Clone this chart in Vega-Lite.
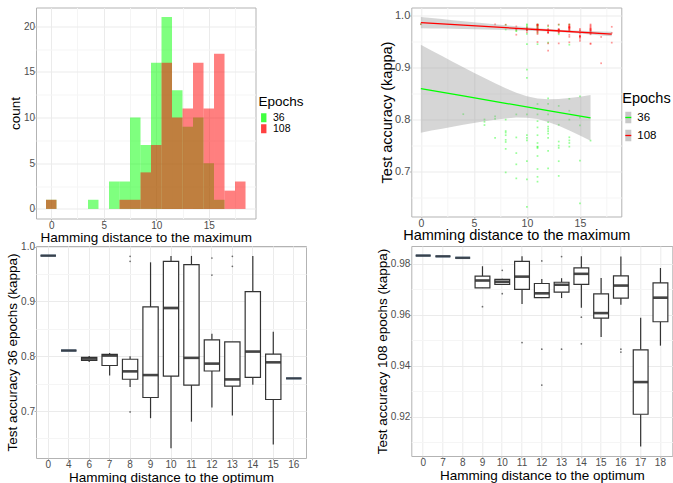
{
  "$schema": "https://vega.github.io/schema/vega-lite/v6.json",
  "padding": {"left": 5, "top": 6.5, "right": 0, "bottom": 0},
  "config": {
    "font": "Liberation Sans",
    "mark": {"color": "#333333"},
    "view": {"stroke": "#B3B3B3", "strokeWidth": 1},
    "axis": {"domain": false, "grid": true, "gridColor": "#EBEBEB", "labelColor": "#4D4D4D", "labelFontSize": 10, "titleFontSize": 13.5, "titleFontWeight": "normal", "titleColor": "#000000", "tickColor": "#B3B3B3", "tickSize": 2, "labelPadding": -0.5, "labelOverlap": false, "labelFlush": false},
    "legend": {"titleFontWeight": "normal", "titleColor": "#000000", "labelColor": "#000000", "padding": 0}
  },
  "datasets": {
    "pts": [
      {"epochs":36,"dist":0,"kappa":0.9835},
      {"epochs":36,"dist":4,"kappa":0.8104},
      {"epochs":36,"dist":6,"kappa":0.7895},{"epochs":36,"dist":6,"kappa":0.7958},{"epochs":36,"dist":6,"kappa":0.8003},
      {"epochs":36,"dist":7,"kappa":0.765},{"epochs":36,"dist":7,"kappa":0.8012},{"epochs":36,"dist":7,"kappa":0.806},
      {"epochs":36,"dist":8,"kappa":0.6985},{"epochs":36,"dist":8,"kappa":0.7437},{"epochs":36,"dist":8,"kappa":0.757},{"epochs":36,"dist":8,"kappa":0.761},{"epochs":36,"dist":8,"kappa":0.770},{"epochs":36,"dist":8,"kappa":0.775},{"epochs":36,"dist":8,"kappa":0.778},{"epochs":36,"dist":8,"kappa":0.800},{"epochs":36,"dist":8,"kappa":0.9731},{"epochs":36,"dist":8,"kappa":0.9823},
      {"epochs":36,"dist":9,"kappa":0.687},{"epochs":36,"dist":9,"kappa":0.714},{"epochs":36,"dist":9,"kappa":0.7356},{"epochs":36,"dist":9,"kappa":0.7657},{"epochs":36,"dist":9,"kappa":0.81},{"epochs":36,"dist":9,"kappa":0.97},{"epochs":36,"dist":9,"kappa":0.9713},
      {"epochs":36,"dist":10,"kappa":0.632},{"epochs":36,"dist":10,"kappa":0.685},{"epochs":36,"dist":10,"kappa":0.72},{"epochs":36,"dist":10,"kappa":0.76},{"epochs":36,"dist":10,"kappa":0.765},{"epochs":36,"dist":10,"kappa":0.77},{"epochs":36,"dist":10,"kappa":0.81},{"epochs":36,"dist":10,"kappa":0.88},{"epochs":36,"dist":10,"kappa":0.896},{"epochs":36,"dist":10,"kappa":0.945},{"epochs":36,"dist":10,"kappa":0.965},{"epochs":36,"dist":10,"kappa":0.972},{"epochs":36,"dist":10,"kappa":0.976},{"epochs":36,"dist":10,"kappa":0.978},{"epochs":36,"dist":10,"kappa":0.981},{"epochs":36,"dist":10,"kappa":0.983},
      {"epochs":36,"dist":11,"kappa":0.6807},{"epochs":36,"dist":11,"kappa":0.69},{"epochs":36,"dist":11,"kappa":0.705},{"epochs":36,"dist":11,"kappa":0.73},{"epochs":36,"dist":11,"kappa":0.745},{"epochs":36,"dist":11,"kappa":0.7474},{"epochs":36,"dist":11,"kappa":0.748},{"epochs":36,"dist":11,"kappa":0.755},{"epochs":36,"dist":11,"kappa":0.77},{"epochs":36,"dist":11,"kappa":0.785},{"epochs":36,"dist":11,"kappa":0.797},{"epochs":36,"dist":11,"kappa":0.81},{"epochs":36,"dist":11,"kappa":0.82},{"epochs":36,"dist":11,"kappa":0.83},{"epochs":36,"dist":11,"kappa":0.945},{"epochs":36,"dist":11,"kappa":0.967},{"epochs":36,"dist":11,"kappa":0.972},{"epochs":36,"dist":11,"kappa":0.975},{"epochs":36,"dist":11,"kappa":0.978},{"epochs":36,"dist":11,"kappa":0.98},{"epochs":36,"dist":11,"kappa":0.983},
      {"epochs":36,"dist":12,"kappa":0.7064},{"epochs":36,"dist":12,"kappa":0.74},{"epochs":36,"dist":12,"kappa":0.765},{"epochs":36,"dist":12,"kappa":0.7731},{"epochs":36,"dist":12,"kappa":0.778},{"epochs":36,"dist":12,"kappa":0.782},{"epochs":36,"dist":12,"kappa":0.7865},{"epochs":36,"dist":12,"kappa":0.795},{"epochs":36,"dist":12,"kappa":0.81},{"epochs":36,"dist":12,"kappa":0.83},{"epochs":36,"dist":12,"kappa":0.841},{"epochs":36,"dist":12,"kappa":0.948},{"epochs":36,"dist":12,"kappa":0.9792},
      {"epochs":36,"dist":13,"kappa":0.6917},{"epochs":36,"dist":13,"kappa":0.72},{"epochs":36,"dist":13,"kappa":0.7456},{"epochs":36,"dist":13,"kappa":0.75},{"epochs":36,"dist":13,"kappa":0.7578},{"epochs":36,"dist":13,"kappa":0.79},{"epochs":36,"dist":13,"kappa":0.8263},{"epochs":36,"dist":13,"kappa":0.964},{"epochs":36,"dist":13,"kappa":0.9823},
      {"epochs":36,"dist":14,"kappa":0.748},{"epochs":36,"dist":14,"kappa":0.755},{"epochs":36,"dist":14,"kappa":0.760},{"epochs":36,"dist":14,"kappa":0.766},{"epochs":36,"dist":14,"kappa":0.80},{"epochs":36,"dist":14,"kappa":0.817},{"epochs":36,"dist":14,"kappa":0.84},{"epochs":36,"dist":14,"kappa":0.944},{"epochs":36,"dist":14,"kappa":0.97},{"epochs":36,"dist":14,"kappa":0.983},
      {"epochs":36,"dist":15,"kappa":0.6391},{"epochs":36,"dist":15,"kappa":0.7211},{"epochs":36,"dist":15,"kappa":0.789},{"epochs":36,"dist":15,"kappa":0.8037},{"epochs":36,"dist":15,"kappa":0.8447},
      {"epochs":36,"dist":16,"kappa":0.7596},
      {"epochs":108,"dist":0,"kappa":0.9833},
      {"epochs":108,"dist":7,"kappa":0.983},
      {"epochs":108,"dist":8,"kappa":0.9824},
      {"epochs":108,"dist":9,"kappa":0.9632},{"epochs":108,"dist":9,"kappa":0.9731},{"epochs":108,"dist":9,"kappa":0.9739},{"epochs":108,"dist":9,"kappa":0.9791},
      {"epochs":108,"dist":10,"kappa":0.9683},{"epochs":108,"dist":10,"kappa":0.9718},{"epochs":108,"dist":10,"kappa":0.9722},{"epochs":108,"dist":10,"kappa":0.973},{"epochs":108,"dist":10,"kappa":0.9736},{"epochs":108,"dist":10,"kappa":0.9742},{"epochs":108,"dist":10,"kappa":0.9775},
      {"epochs":108,"dist":11,"kappa":0.9491},{"epochs":108,"dist":11,"kappa":0.9643},{"epochs":108,"dist":11,"kappa":0.967},{"epochs":108,"dist":11,"kappa":0.9695},{"epochs":108,"dist":11,"kappa":0.9702},{"epochs":108,"dist":11,"kappa":0.972},{"epochs":108,"dist":11,"kappa":0.974},{"epochs":108,"dist":11,"kappa":0.9748},{"epochs":108,"dist":11,"kappa":0.9752},{"epochs":108,"dist":11,"kappa":0.977},{"epochs":108,"dist":11,"kappa":0.979},{"epochs":108,"dist":11,"kappa":0.9808},{"epochs":108,"dist":11,"kappa":0.9816},{"epochs":108,"dist":11,"kappa":0.982},{"epochs":108,"dist":11,"kappa":0.9825},{"epochs":108,"dist":11,"kappa":0.983},
      {"epochs":108,"dist":12,"kappa":0.9324},{"epochs":108,"dist":12,"kappa":0.9465},{"epochs":108,"dist":12,"kappa":0.9667},{"epochs":108,"dist":12,"kappa":0.9671},{"epochs":108,"dist":12,"kappa":0.968},{"epochs":108,"dist":12,"kappa":0.969},{"epochs":108,"dist":12,"kappa":0.9709},{"epochs":108,"dist":12,"kappa":0.9728},{"epochs":108,"dist":12,"kappa":0.9741},{"epochs":108,"dist":12,"kappa":0.9812},
      {"epochs":108,"dist":13,"kappa":0.9465},{"epochs":108,"dist":13,"kappa":0.9666},{"epochs":108,"dist":13,"kappa":0.9685},{"epochs":108,"dist":13,"kappa":0.9693},{"epochs":108,"dist":13,"kappa":0.970},{"epochs":108,"dist":13,"kappa":0.9718},{"epochs":108,"dist":13,"kappa":0.9722},{"epochs":108,"dist":13,"kappa":0.9725},{"epochs":108,"dist":13,"kappa":0.9731},{"epochs":108,"dist":13,"kappa":0.9744},{"epochs":108,"dist":13,"kappa":0.9829},
      {"epochs":108,"dist":14,"kappa":0.9486},{"epochs":108,"dist":14,"kappa":0.9591},{"epochs":108,"dist":14,"kappa":0.9628},{"epochs":108,"dist":14,"kappa":0.9715},{"epochs":108,"dist":14,"kappa":0.9721},{"epochs":108,"dist":14,"kappa":0.9735},{"epochs":108,"dist":14,"kappa":0.975},{"epochs":108,"dist":14,"kappa":0.9758},{"epochs":108,"dist":14,"kappa":0.9764},{"epochs":108,"dist":14,"kappa":0.977},{"epochs":108,"dist":14,"kappa":0.9778},{"epochs":108,"dist":14,"kappa":0.9783},{"epochs":108,"dist":14,"kappa":0.9788},{"epochs":108,"dist":14,"kappa":0.980},{"epochs":108,"dist":14,"kappa":0.982},{"epochs":108,"dist":14,"kappa":0.983},
      {"epochs":108,"dist":15,"kappa":0.9513},{"epochs":108,"dist":15,"kappa":0.955},{"epochs":108,"dist":15,"kappa":0.9585},{"epochs":108,"dist":15,"kappa":0.959},{"epochs":108,"dist":15,"kappa":0.96},{"epochs":108,"dist":15,"kappa":0.9607},{"epochs":108,"dist":15,"kappa":0.962},{"epochs":108,"dist":15,"kappa":0.966},{"epochs":108,"dist":15,"kappa":0.9705},{"epochs":108,"dist":15,"kappa":0.972},{"epochs":108,"dist":15,"kappa":0.9745},
      {"epochs":108,"dist":16,"kappa":0.9454},{"epochs":108,"dist":16,"kappa":0.9465},{"epochs":108,"dist":16,"kappa":0.964},{"epochs":108,"dist":16,"kappa":0.9655},{"epochs":108,"dist":16,"kappa":0.9666},{"epochs":108,"dist":16,"kappa":0.968},{"epochs":108,"dist":16,"kappa":0.9695},{"epochs":108,"dist":16,"kappa":0.9705},{"epochs":108,"dist":16,"kappa":0.9715},{"epochs":108,"dist":16,"kappa":0.9725},{"epochs":108,"dist":16,"kappa":0.9735},{"epochs":108,"dist":16,"kappa":0.9745},{"epochs":108,"dist":16,"kappa":0.9753},{"epochs":108,"dist":16,"kappa":0.977},{"epochs":108,"dist":16,"kappa":0.979},{"epochs":108,"dist":16,"kappa":0.981},{"epochs":108,"dist":16,"kappa":0.9829},
      {"epochs":108,"dist":17,"kappa":0.9083},{"epochs":108,"dist":17,"kappa":0.9589},
      {"epochs":108,"dist":18,"kappa":0.9479},{"epochs":108,"dist":18,"kappa":0.9667},{"epochs":108,"dist":18,"kappa":0.9784}
    ],
    "band": [
      {"epochs":36,"dist":0,"kappa":0.7749,"hi":0.9439},
      {"epochs":36,"dist":1,"kappa":0.7788,"hi":0.9330},
      {"epochs":36,"dist":2,"kappa":0.7826,"hi":0.9222},
      {"epochs":36,"dist":3,"kappa":0.7863,"hi":0.9114},
      {"epochs":36,"dist":4,"kappa":0.7900,"hi":0.9007},
      {"epochs":36,"dist":5,"kappa":0.7935,"hi":0.8902},
      {"epochs":36,"dist":6,"kappa":0.7968,"hi":0.8798},
      {"epochs":36,"dist":7,"kappa":0.7998,"hi":0.8698},
      {"epochs":36,"dist":8,"kappa":0.8023,"hi":0.8603},
      {"epochs":36,"dist":9,"kappa":0.8038,"hi":0.8518},
      {"epochs":36,"dist":10,"kappa":0.8037,"hi":0.8449},
      {"epochs":36,"dist":11,"kappa":0.8011,"hi":0.8405},
      {"epochs":36,"dist":12,"kappa":0.7956,"hi":0.8389},
      {"epochs":36,"dist":13,"kappa":0.7880,"hi":0.8395},
      {"epochs":36,"dist":14,"kappa":0.7790,"hi":0.8414},
      {"epochs":36,"dist":15,"kappa":0.7693,"hi":0.8441},
      {"epochs":36,"dist":16,"kappa":0.7591,"hi":0.8473},
      {"epochs":108,"dist":0,"kappa":0.9758,"hi":0.9972},
      {"epochs":108,"dist":1,"kappa":0.9753,"hi":0.9952},
      {"epochs":108,"dist":2,"kappa":0.9749,"hi":0.9932},
      {"epochs":108,"dist":3,"kappa":0.9745,"hi":0.9912},
      {"epochs":108,"dist":4,"kappa":0.9740,"hi":0.9892},
      {"epochs":108,"dist":5,"kappa":0.9736,"hi":0.9872},
      {"epochs":108,"dist":6,"kappa":0.9731,"hi":0.9853},
      {"epochs":108,"dist":7,"kappa":0.9726,"hi":0.9833},
      {"epochs":108,"dist":8,"kappa":0.9721,"hi":0.9813},
      {"epochs":108,"dist":9,"kappa":0.9716,"hi":0.9794},
      {"epochs":108,"dist":10,"kappa":0.9710,"hi":0.9776},
      {"epochs":108,"dist":11,"kappa":0.9703,"hi":0.9758},
      {"epochs":108,"dist":12,"kappa":0.9695,"hi":0.9742},
      {"epochs":108,"dist":13,"kappa":0.9684,"hi":0.9728},
      {"epochs":108,"dist":14,"kappa":0.9671,"hi":0.9717},
      {"epochs":108,"dist":15,"kappa":0.9655,"hi":0.9708},
      {"epochs":108,"dist":16,"kappa":0.9638,"hi":0.9701},
      {"epochs":108,"dist":17,"kappa":0.9619,"hi":0.9696},
      {"epochs":108,"dist":18,"kappa":0.9600,"hi":0.9690}
    ],
    "fit": [
      {"epochs":36,"dist":0,"kappa":0.8594},
      {"epochs":36,"dist":4,"kappa":0.8454},
      {"epochs":36,"dist":8,"kappa":0.8313},
      {"epochs":36,"dist":12,"kappa":0.8172},
      {"epochs":36,"dist":16,"kappa":0.8032},
      {"epochs":108,"dist":0,"kappa":0.9865},
      {"epochs":108,"dist":6,"kappa":0.9792},
      {"epochs":108,"dist":12,"kappa":0.9718},
      {"epochs":108,"dist":18,"kappa":0.9645}
    ]
  },
  "columns": 2,
  "align": "each",
  "bounds": "flush",
  "spacing": {"row": 27.5, "column": 105.3},
  "resolve": {"scale": {"x": "independent", "y": "independent", "color": "independent", "fill": "independent"}, "legend": {"color": "independent", "fill": "independent"}},
  "concat": [
    {
      "width": 219.5, "height": 211,
      "data": {"name": "pts"},
      "transform": [
        {"bin": {"extent": [-0.5, 18.5], "step": 1, "nice": false}, "field": "dist", "as": ["b0", "b1"]},
        {"aggregate": [{"op": "count", "as": "count"}], "groupby": ["epochs", "b0", "b1"]}
      ],
      "mark": {"type": "rect", "opacity": 0.5},
      "encoding": {
        "x": {"field": "b0", "type": "quantitative", "scale": {"domain": [-1.45, 19.45], "nice": false, "zero": false},
          "axis": {"values": [0, 2.5, 5, 7.5, 10, 12.5, 15, 17.5], "labelExpr": "datum.value % 5 === 0 ? datum.label : ''",
            "gridColor": {"condition": {"test": "datum.value % 5 === 0", "value": "#EBEBEB"}, "value": "#F5F5F5"},
            "tickOpacity": {"condition": {"test": "datum.value % 5 === 0", "value": 1}, "value": 0},
            "title": "Hamming distance to the maximum", "titlePadding": 0}},
        "x2": {"field": "b1"},
        "y": {"field": "count", "type": "quantitative", "scale": {"domain": [-1.05, 22.05], "nice": false, "zero": false},
          "axis": {"values": [0, 2.5, 5, 7.5, 10, 12.5, 15, 17.5, 20], "labelExpr": "datum.value % 5 === 0 ? datum.label : ''",
            "gridColor": {"condition": {"test": "datum.value % 5 === 0", "value": "#EBEBEB"}, "value": "#F5F5F5"},
            "tickOpacity": {"condition": {"test": "datum.value % 5 === 0", "value": 1}, "value": 0},
            "title": "count", "titlePadding": 0.5}},
        "y2": {"datum": 0},
        "color": {"field": "epochs", "type": "nominal", "scale": {"domain": [36, 108], "range": ["#00FF00", "#FF0000"]},
          "legend": {"title": "Epochs", "orient": "none", "legendX": 222.5, "legendY": 87, "symbolType": "M-0.6,-1H0.6V1H-0.6Z", "symbolSize": 81, "symbolOpacity": 0.75, "symbolStrokeWidth": 0, "titleFontSize": 13.5, "labelFontSize": 10.5, "rowPadding": 0, "titlePadding": 4.5, "labelOffset": 4}},
        "order": {"field": "epochs", "type": "quantitative"}
      }
    },
    {
      "width": 210, "height": 209,
      "encoding": {
        "x": {"field": "dist", "type": "quantitative", "scale": {"domain": [-0.9, 18.9], "nice": false, "zero": false},
          "axis": {"values": [0, 2.5, 5, 7.5, 10, 12.5, 15, 17.5], "labelExpr": "datum.value % 5 === 0 ? datum.label : ''",
            "gridColor": {"condition": {"test": "datum.value % 5 === 0", "value": "#EBEBEB"}, "value": "#F5F5F5"},
            "tickOpacity": {"condition": {"test": "datum.value % 5 === 0", "value": 1}, "value": 0},
            "labelFontSize": 10.5, "titleFontSize": 14.5, "title": "Hamming distance to the maximum", "titlePadding": 0}},
        "y": {"field": "kappa", "type": "quantitative", "scale": {"domain": [0.6137, 1.0155], "nice": false, "zero": false},
          "axis": {"values": [0.65, 0.7, 0.75, 0.8, 0.85, 0.9, 0.95, 1.0], "labelExpr": "abs(datum.value*10 - round(datum.value*10)) < 0.001 ? format(datum.value, '.1f') : ''",
            "gridColor": {"condition": {"test": "abs(datum.value*10 - round(datum.value*10)) < 0.001", "value": "#EBEBEB"}, "value": "#F5F5F5"},
            "tickOpacity": {"condition": {"test": "abs(datum.value*10 - round(datum.value*10)) < 0.001", "value": 1}, "value": 0},
            "labelFontSize": 11, "titleFontSize": 14.5, "title": "Test accuracy (kappa)", "titlePadding": 0}}
      },
      "layer": [
        {
          "data": {"name": "pts"},
          "mark": {"type": "square", "size": 3, "opacity": 0.4},
          "encoding": {
            "fill": {"field": "epochs", "type": "nominal", "scale": {"domain": [108, 36], "range": ["#FF0000", "#00FF00"]}, "legend": null}
          }
        },
        {
          "data": {"name": "band"},
          "mark": {"type": "area", "color": "#999999", "opacity": 0.4},
          "encoding": {
            "y2": {"field": "hi"},
            "detail": {"field": "epochs"}
          }
        },
        {
          "data": {"name": "fit"},
          "mark": {"type": "line", "strokeWidth": 1.3},
          "encoding": {
            "color": {"field": "epochs", "type": "nominal", "scale": {"domain": [36, 108], "range": ["#00FF00", "#FF0000"]},
              "legend": {"title": "Epochs", "orient": "none", "legendX": 211, "legendY": 84.5, "symbolType": "M-0.6,0H0.6V1.15H-0.6V-1.15H0.6V0", "symbolSize": 100, "symbolDash": [6, 100], "symbolStrokeWidth": 1.3, "symbolFillColor": "#C8C8C8", "symbolOpacity": 1, "titleFontSize": 14.5, "labelFontSize": 11.5, "rowPadding": 0, "titlePadding": 5, "labelOffset": 3,
                "encode": {"symbols": {"update": {"fill": {"value": "#C8C8C8"}, "fillOpacity": {"value": 1}}}}}}
          }
        }
      ]
    },
    {
      "width": 270, "height": 212,
      "data": {"name": "pts"},
      "transform": [{"filter": "datum.epochs === 36"}],
      "encoding": {
        "x": {"field": "dist", "type": "ordinal", "scale": {"paddingInner": 0.25, "paddingOuter": 0.225},
          "axis": {"title": "Hamming distance to the optimum", "labelAngle": 0, "bandPosition": 0.5, "labelPadding": -1, "titlePadding": 1}},
        "y": {"field": "kappa", "type": "quantitative", "scale": {"domain": [0.6144, 1.0011], "nice": false, "zero": false},
          "axis": {"values": [0.65, 0.7, 0.75, 0.8, 0.85, 0.9, 0.95, 1.0], "labelExpr": "abs(datum.value*10 - round(datum.value*10)) < 0.001 ? format(datum.value, '.1f') : ''",
            "gridColor": {"condition": {"test": "abs(datum.value*10 - round(datum.value*10)) < 0.001", "value": "#EBEBEB"}, "value": "#F5F5F5"},
            "tickOpacity": {"condition": {"test": "abs(datum.value*10 - round(datum.value*10)) < 0.001", "value": 1}, "value": 0},
            "title": "Test accuracy 36 epochs (kappa)", "titlePadding": 1}}
      },
      "layer": [
        {
          "mark": {"type": "boxplot", "extent": 1.5, "size": 15.3, "color": "#333333",
            "box": {"fill": "white", "stroke": "#333333", "strokeWidth": 1.2},
            "median": {"color": "#333333", "thickness": 2.4},
            "rule": {"color": "#333333", "strokeWidth": 1.2},
            "outliers": {"color": "#333333", "size": 3, "filled": true, "strokeWidth": 0}}
        },
        {
          "transform": [{"aggregate": [{"op": "median", "field": "kappa", "as": "kappa"}], "groupby": ["dist"]}],
          "mark": {"type": "tick", "color": "#333333", "thickness": 2.4, "size": 15.3}
        }
      ]
    },
    {
      "width": 261, "height": 210,
      "data": {"name": "pts"},
      "transform": [{"filter": "datum.epochs === 108"}],
      "encoding": {
        "x": {"field": "dist", "type": "ordinal", "scale": {"paddingInner": 0.25, "paddingOuter": 0.225},
          "axis": {"title": "Hamming distance to the optimum", "labelAngle": 0, "bandPosition": 0.5, "labelPadding": -1, "titlePadding": 1}},
        "y": {"field": "kappa", "type": "quantitative", "scale": {"domain": [0.90455, 0.98705], "nice": false, "zero": false},
          "axis": {"values": [0.91, 0.92, 0.93, 0.94, 0.95, 0.96, 0.97, 0.98], "labelExpr": "round(datum.value*100) % 2 === 0 ? format(datum.value, '.2f') : ''",
            "gridColor": {"condition": {"test": "round(datum.value*100) % 2 === 0", "value": "#EBEBEB"}, "value": "#F5F5F5"},
            "tickOpacity": {"condition": {"test": "round(datum.value*100) % 2 === 0", "value": 1}, "value": 0},
            "title": "Test accuracy 108 epochs (kappa)", "titlePadding": 0.7}}
      },
      "layer": [
        {
          "mark": {"type": "boxplot", "extent": 1.5, "size": 14.8, "color": "#333333",
            "box": {"fill": "white", "stroke": "#333333", "strokeWidth": 1.2},
            "median": {"color": "#333333", "thickness": 2.4},
            "rule": {"color": "#333333", "strokeWidth": 1.2},
            "outliers": {"color": "#333333", "size": 3, "filled": true, "strokeWidth": 0}}
        },
        {
          "transform": [{"aggregate": [{"op": "median", "field": "kappa", "as": "kappa"}], "groupby": ["dist"]}],
          "mark": {"type": "tick", "color": "#333333", "thickness": 2.4, "size": 14.8}
        }
      ]
    }
  ]
}
